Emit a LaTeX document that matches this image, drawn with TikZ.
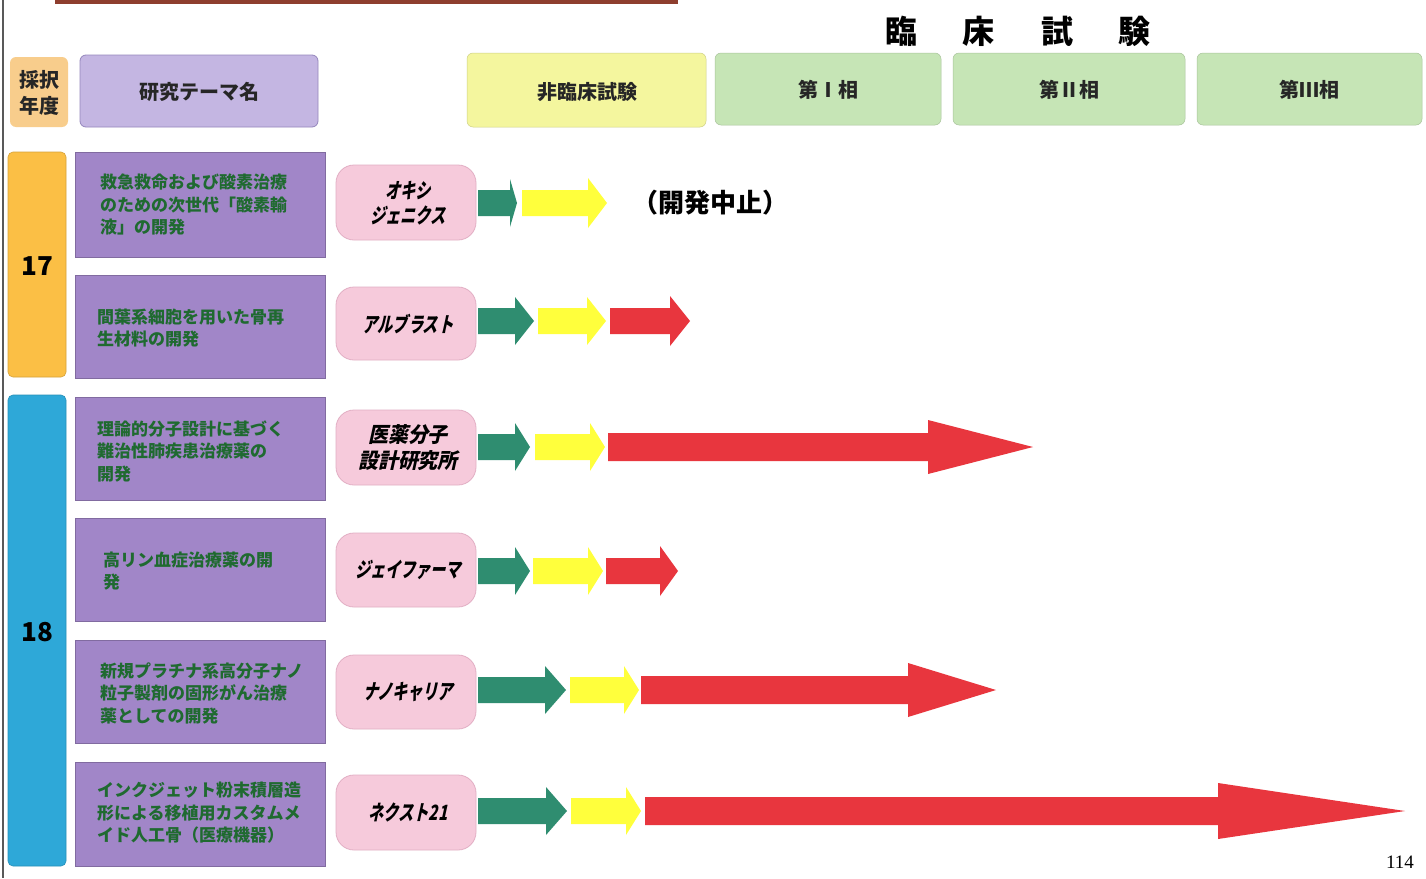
\documentclass[tikz,border=0pt]{standalone}
\usepackage{fontspec}
\newfontfamily\jp{Noto Sans CJK JP}
\newfontfamily\jpsl{Noto Sans CJK JP}[FakeSlant=0.22, FakeStretch=0.72]
\newfontfamily\jpslk{Noto Sans CJK JP}[FakeSlant=0.22, FakeStretch=0.95]
\newfontfamily\pgnum{Liberation Serif}
\definecolor{hdorange}{HTML}{F8CD8C}
\definecolor{hdpurple}{HTML}{C4B6E2}
\definecolor{hdpurpleb}{HTML}{9486BC}
\definecolor{hdyellow}{HTML}{F4F69E}
\definecolor{hdgreen}{HTML}{C6E5B6}
\definecolor{yr17}{HTML}{FBBF45}
\definecolor{yr18}{HTML}{2EA8D8}
\definecolor{thpurple}{HTML}{A186C8}
\definecolor{thtext}{HTML}{1F6A30}
\definecolor{cpink}{HTML}{F6CADB}
\definecolor{cpinkb}{HTML}{E2AFC4}
\definecolor{agreen}{HTML}{2F8D70}
\definecolor{ayellow}{HTML}{FFFF3C}
\definecolor{ared}{HTML}{E8363E}
\definecolor{topbar}{HTML}{8E3E2E}
\tikzset{
  hdbox/.style={rounded corners=6pt, inner sep=0pt},
  theme/.style={fill=thpurple, draw=thpurple!80!black, line width=0.6pt, inner sep=0pt},
  thtxt/.style={anchor=west, align=left, text=thtext, font=\jp\bfseries\fontsize{17}{22.5}\selectfont, inner sep=0pt},
  comp/.style={fill=cpink, draw=cpinkb, line width=0.8pt, rounded corners=18pt, inner sep=0pt},
  comptxt/.style={align=center, font=\jpsl\bfseries\fontsize{21}{25}\selectfont, inner sep=0pt},
  comptxtk/.style={align=center, font=\jpslk\bfseries\fontsize{21}{26}\selectfont, inner sep=0pt},
  hdtxt/.style={font=\jp\bfseries\fontsize{20}{24}\selectfont, inner sep=0pt, text=black!85},
}
% block arrow: x-start, head-start, tip, y, shaft half, head half, colour
\newcommand\parr[7]{\fill[#7] (#1,#4-#5) -- (#2,#4-#5) -- (#2,#4-#6) -- (#3,#4) -- (#2,#4+#6) -- (#2,#4+#5) -- (#1,#4+#5) -- cycle;}
\begin{document}
\begin{tikzpicture}[x=1pt,y=-1pt]
\useasboundingbox (0,0) rectangle (1426,878);
\fill[white] (0,0) rectangle (1426,878);
% page edge and top bar
\draw[gray!70!black, line width=1.2pt] (3,0) -- (3,878);
\fill[topbar] (55,0) rectangle (678,4);
% title
\node[font=\jp\bfseries\fontsize{32}{36}\selectfont, inner sep=0pt] (rinsho) at (1018,31) {臨\hspace{46pt}床\hspace{46pt}試\hspace{46pt}験};
% header boxes
\fill[hdbox, hdorange] (10,57) rectangle (68,127);
\node[hdtxt, align=center, font=\jp\bfseries\fontsize{20}{26}\selectfont] (saitaku) at (39,93) {採択\\年度};
\draw[hdbox, fill=hdpurple, draw=hdpurpleb, line width=0.8pt] (80,55) rectangle (318,127);
\node[hdtxt] (theme) at (199,92) {研究テーマ名};
\draw[hdbox, fill=hdyellow, draw=hdyellow!85!black, line width=0.5pt] (467,53) rectangle (706,127);
\node[hdtxt] (hirinsho) at (587,92) {非臨床試験};
\draw[hdbox, fill=hdgreen, draw=hdgreen!85!black, line width=0.5pt] (715,53) rectangle (941,125);
\node[hdtxt] (p1) at (828,90) {第Ⅰ相};
\draw[hdbox, fill=hdgreen, draw=hdgreen!85!black, line width=0.5pt] (953,53) rectangle (1185,125);
\node[hdtxt] (p2) at (1069,90) {第Ⅱ相};
\draw[hdbox, fill=hdgreen, draw=hdgreen!85!black, line width=0.5pt] (1197,53) rectangle (1422,125);
\node[hdtxt] (p3) at (1309,90) {第Ⅲ相};
% year boxes
\draw[rounded corners=5pt, fill=yr17, draw=yr17!85!black, line width=0.6pt] (8,152) rectangle (66,377);
\node[font=\jp\bfseries\fontsize{26}{30}\selectfont, inner sep=0pt] (y17) at (37,266) {17};
\draw[rounded corners=5pt, fill=yr18, draw=yr18!85!black, line width=0.6pt] (8,395) rectangle (66,866);
\node[font=\jp\bfseries\fontsize{26}{30}\selectfont, inner sep=0pt] (y18) at (37,632) {18};
% theme boxes
\draw[theme] (75,152) rectangle (325,257);
\node[thtxt] (t1) at (100,205) {救急救命および酸素治療\\のための次世代「酸素輸\\液」の開発};
\draw[theme] (75,275) rectangle (325,378);
\node[thtxt] (t2) at (97,328) {間葉系細胞を用いた骨再\\生材料の開発};
\draw[theme] (75,397) rectangle (325,500);
\node[thtxt] (t3) at (97,451) {理論的分子設計に基づく\\難治性肺疾患治療薬の\\開発};
\draw[theme] (75,518) rectangle (325,621);
\node[thtxt] (t4) at (103,571) {高リン血症治療薬の開\\発};
\draw[theme] (75,640) rectangle (325,743);
\node[thtxt] (t5) at (100,693) {新規プラチナ系高分子ナノ\\粒子製剤の固形がん治療\\薬としての開発};
\draw[theme] (75,762) rectangle (325,866);
\node[thtxt] (t6) at (97,813) {インクジェット粉末積層造\\形による移植用カスタムメ\\イド人工骨（医療機器）};
% company boxes
\draw[comp] (336,165) rectangle (476,240);
\node[comptxt] (c1) at (408,203) {オキシ\\ジェニクス};
\draw[comp] (336,287) rectangle (476,360);
\node[comptxt] (c2) at (408,324) {アルブラスト};
\draw[comp] (336,410) rectangle (476,485);
\node[comptxtk] (c3) at (408,448) {医薬分子\\設計研究所};
\draw[comp] (336,533) rectangle (476,607);
\node[comptxt] (c4) at (408,570) {ジェイファーマ};
\draw[comp] (336,655) rectangle (476,729);
\node[comptxt] (c5) at (408,692) {ナノキャリア};
\draw[comp] (336,775) rectangle (476,850);
\node[comptxt] (c6) at (408,812) {ネクスト21};
% arrows row 1
\parr{478}{510}{517}{203}{13}{24}{agreen}
\parr{522}{588}{607}{203}{13}{25}{ayellow}
\node[font=\jp\bfseries\fontsize{26}{30}\selectfont, inner sep=0pt] (stop) at (710,203) {（開発中止）};
% row 2
\parr{478}{515}{534}{321}{13}{24}{agreen}
\parr{538}{587}{606}{321}{13}{24}{ayellow}
\parr{610}{670}{690}{321}{13}{25}{ared}
% row 3
\parr{478}{515}{530}{447}{13}{24}{agreen}
\parr{535}{590}{605}{447}{13}{24}{ayellow}
\parr{608}{928}{1033}{447}{14}{27}{ared}
% row 4
\parr{478}{515}{530}{571}{13}{24}{agreen}
\parr{533}{588}{603}{571}{13}{24}{ayellow}
\parr{606}{660}{678}{571}{13}{25}{ared}
% row 5
\parr{478}{545}{566}{690}{13}{24}{agreen}
\parr{570}{624}{639}{690}{13}{24}{ayellow}
\parr{641}{908}{996}{690}{14}{27}{ared}
% row 6
\parr{478}{546}{567}{811}{13}{24}{agreen}
\parr{571}{626}{641}{811}{13}{24}{ayellow}
\parr{645}{1218}{1405}{811}{14}{28}{ared}
% page number
\node[font=\pgnum\fontsize{19}{22}\selectfont, inner sep=0pt] (pg) at (1400,862) {114};
\end{tikzpicture}
\end{document}
